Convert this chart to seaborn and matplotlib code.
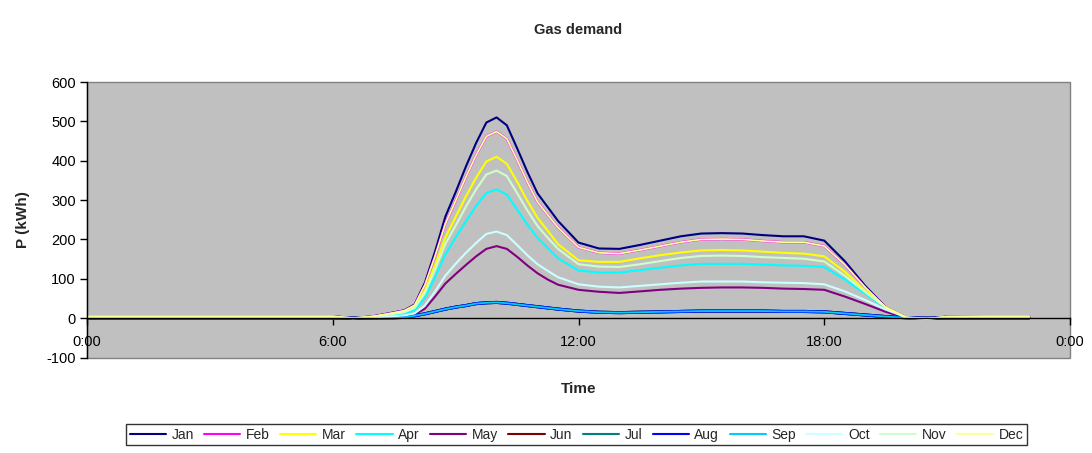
import matplotlib
matplotlib.use("Agg")
import matplotlib.pyplot as plt
import seaborn as sns
import pandas as pd

# Sample times (hours after midnight)
hours = [0, 1, 2, 3, 4, 5, 6, 6.5, 7,
         7.5, 7.75, 8, 8.25, 8.5, 8.75, 9, 9.25, 9.5, 9.75, 10, 10.25, 10.5, 10.75, 11, 11.25, 11.5,
         12, 12.5, 13, 13.5, 14, 14.5, 15, 15.5, 16, 16.5, 17, 17.5, 18,
         18.5, 19, 19.5, 20, 20.5, 21, 22, 23]

months = ["Jan", "Feb", "Mar", "Apr", "May", "Jun",
          "Jul", "Aug", "Sep", "Oct", "Nov", "Dec"]

# Gas demand per month, kWh
jan = [5, 5, 5, 5, 5, 5, 5, 0, 5,
       15, 20, 35, 90, 170, 258, 320, 385, 445, 497, 510, 490, 432, 372, 317, 282, 247,
       192, 177, 176, 186, 197, 208, 215, 216, 215, 211, 208, 208, 197,
       145, 82, 28, 2, -2, 4, 5, 5]
feb = [4.5, 4.5, 4.5, 4.5, 4.5, 4.5, 4.5, 0, 4.5,
       14, 19, 33, 84, 158, 240, 298, 358, 414, 462, 474, 456, 402, 346, 295, 262, 230,
       180, 166, 164, 173, 183, 193, 200, 201, 200, 196, 193, 193, 183,
       136, 78, 27, 2, -2, 4, 4.5, 4.5]
mar = [4, 4, 4, 4, 4, 4, 4, 0, 4,
       12, 17, 29, 70, 135, 205, 257, 309, 357, 398, 410, 392, 347, 298, 255, 222, 188,
       147, 143, 143, 152, 160, 167, 172, 173, 172, 169, 166, 164, 157,
       118, 70, 28, 2, -2, 3, 4, 4]
apr = [3, 3, 3, 3, 3, 3, 3, 0, 3,
       9, 12, 20, 52, 105, 162, 205, 246, 285, 318, 327, 314, 276, 238, 204, 178, 152,
       121, 116, 116, 122, 128, 134, 138, 138, 138, 136, 134, 133, 130,
       98, 62, 26, 1, -1, 3, 3, 3]
may = [1.5, 1.5, 1.5, 1.5, 1.5, 1.5, 1.5, 0, 1.5,
       3, 5, 9, 24, 55, 88, 112, 135, 157, 176, 183, 176, 156, 134, 114, 98, 85,
       72, 67, 64, 68, 72, 75, 77, 78, 78, 77, 75, 74, 72,
       55, 36, 16, 1, -1, 1.5, 1.5, 1.5]
sep = [0.5, 0.5, 0.5, 0.5, 0.5, 0.5, 0.5, 0, 0.5,
       1, 2, 6, 11, 17, 23, 28, 32, 37, 39, 40, 38, 35, 32, 29, 26, 23,
       18, 15, 14, 15, 16, 17, 18, 18, 18, 18, 17, 17, 16,
       12, 8, 4, 1, 0, 0.5, 0.5, 0.5]
oct_ = [2, 2, 2, 2, 2, 2, 2, 0, 2,
        5, 7, 12, 32, 68, 108, 138, 166, 191, 214, 220, 211, 186, 160, 137, 120, 104,
        86, 80, 78, 82, 86, 90, 93, 93, 93, 91, 90, 89, 86,
        68, 46, 22, 2, -1, 2, 2, 2]
nov = [3.5, 3.5, 3.5, 3.5, 3.5, 3.5, 3.5, 0, 3.5,
       11, 15, 26, 64, 124, 189, 235, 283, 327, 365, 375, 361, 318, 274, 234, 204, 176,
       137, 131, 130, 137, 145, 153, 158, 159, 158, 155, 153, 151, 144,
       108, 66, 27, 1, -2, 3, 3.5, 3.5]
dec = [4.5, 4.5, 4.5, 4.5, 4.5, 4.5, 4.5, 0, 4.5,
       14, 19, 33, 84, 158, 240, 298, 358, 414, 462, 474, 456, 402, 346, 295, 262, 230,
       180, 166, 164, 173, 183, 193, 200, 201, 200, 196, 193, 193, 183,
       136, 78, 27, 2, -2, 4, 4.5, 4.5]
jun = sep
jul = sep
aug = sep

series = [jan, feb, mar, apr, may, jun, jul, aug, sep, oct_, nov, dec]

month_colors = ["#000080", "#FF00FF", "#FFFF00", "#00FFFF", "#800080", "#800000",
                "#008080", "#0000FF", "#00CCFF", "#CCFFFF", "#CCFFCC", "#FFFF99"]
line_widths = [1.5, 1.7, 1.5, 1.5, 1.5, 2.2, 2.2, 2.2, 1.3, 1.5, 1.5, 1.25]

y_ticks = [-100, 0, 100, 200, 300, 400, 500, 600]
x_ticks = [0, 6, 12, 18, 24]
x_tick_labels = ["0:00", "6:00", "12:00", "18:00", "0:00"]

df = pd.DataFrame({
    "hour": hours * len(months),
    "P": [v for s in series for v in s],
    "month": [m for m in months for _ in hours],
})

sns.set_style("white")
plt.rcParams["font.family"] = ["Liberation Sans", "DejaVu Sans"]
plt.rcParams["axes.unicode_minus"] = False

fig = plt.figure(figsize=(10.92, 4.53), dpi=100)
ax = fig.add_axes([87 / 1092, 1 - 357.5 / 453, 983 / 1092, 275.5 / 453])
ax.set_facecolor("#C0C0C0")

for m, c, lw in zip(months, month_colors, line_widths):
    sns.lineplot(data=df[df["month"] == m], x="hour", y="P", color=c,
                 linewidth=lw, label=m, ax=ax, legend=False)

ax.set_xlim(0, 24)
ax.set_ylim(-100, 600)
ax.set_yticks(y_ticks)
ax.set_xticks(x_ticks)
ax.set_xticklabels(x_tick_labels)

for side in ["top", "right"]:
    ax.spines[side].set_visible(False)
ax.spines["left"].set_color("black")
ax.spines["left"].set_linewidth(1)
ax.spines["bottom"].set_position(("data", 0))
ax.spines["bottom"].set_color("black")
ax.spines["bottom"].set_linewidth(1)
ax.patch.set_edgecolor("#808080")
ax.patch.set_linewidth(1)

ax.tick_params(axis="both", direction="out", length=5, width=1, color="black",
               labelsize=10.5, labelcolor="black")
ax.tick_params(axis="x", pad=7)
ax.tick_params(axis="y", pad=3)
ax.yaxis.set_ticks_position("left")
ax.xaxis.set_ticks_position("bottom")

ax.set_xlabel("Time", fontsize=11, fontweight="bold")
ax.xaxis.set_label_coords(0.5, -0.09)
ax.set_ylabel("P (kWh)", fontsize=11, fontweight="bold")
ax.yaxis.set_label_coords(-0.058, 0.5)

ax.text(0.5, 1.19, "Gas demand", transform=ax.transAxes, ha="center", va="center",
        fontsize=10.5, fontweight="bold")

handles, labels = ax.get_legend_handles_labels()
leg = fig.legend(handles, labels, loc="center", bbox_to_anchor=(0.528, 0.04), ncol=12,
                 frameon=True, fancybox=False, edgecolor="black", fontsize=10,
                 handlelength=2.6, handletextpad=0.4, columnspacing=0.75,
                 borderpad=0.25, borderaxespad=0)
leg.get_frame().set_linewidth(1)
for h in leg.get_lines():
    h.set_linewidth(1.5)

fig.savefig("out.png", dpi=100)
